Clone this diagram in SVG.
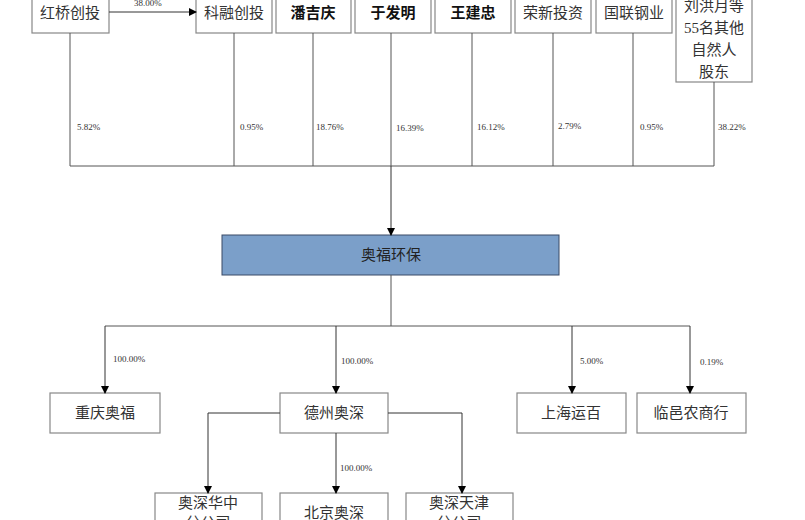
<svg xmlns="http://www.w3.org/2000/svg" width="805" height="520" viewBox="0 0 805 520">
<defs>
<marker id="ar" markerWidth="8" markerHeight="8" refX="7" refY="4" orient="auto" markerUnits="userSpaceOnUse"><path d="M0,0 L8,4 L0,8 z" fill="#000"/></marker>
<style>
.b{fill:#fff;stroke:#888;stroke-width:1.2}
.t{font-family:"Liberation Serif","Noto Sans CJK SC",serif;font-size:15px;fill:#333;text-anchor:middle}
.bd{font-weight:bold;fill:#111}
.p{font-family:"Liberation Serif",serif;font-size:9px;fill:#333}
.l{fill:none;stroke:#555;stroke-width:1}
.a{fill:none;stroke:#333;stroke-width:1;marker-end:url(#ar)}
</style>
</defs>
<rect width="805" height="520" fill="#fff"/>
<g id="hq"><rect class="b" x="32" y="-10" width="77" height="43"/><text class="t" x="70" y="18">红桥创投</text></g>
<g id="kr"><rect class="b" x="196" y="-10" width="76" height="43"/><text class="t" x="234" y="18">科融创投</text></g>
<g id="pjq"><rect class="b" x="276" y="-10" width="75" height="43"/><text class="t bd" x="313" y="18">潘吉庆</text></g>
<g id="yfm"><rect class="b" x="355" y="-10" width="76" height="43"/><text class="t bd" x="393" y="18">于发明</text></g>
<g id="wjz"><rect class="b" x="435" y="-10" width="76" height="43"/><text class="t bd" x="473" y="18">王建忠</text></g>
<g id="rx"><rect class="b" x="515" y="-10" width="76" height="43"/><text class="t" x="553" y="18">荣新投资</text></g>
<g id="gl"><rect class="b" x="596" y="-10" width="76" height="43"/><text class="t" x="634" y="18">国联钢业</text></g>
<g id="lhy"><rect class="b" x="676" y="-10" width="76" height="92"/>
<text class="t" x="714" y="11">刘洪月等</text><text class="t" x="714" y="33">55名其他</text><text class="t" x="714" y="55">自然人</text><text class="t" x="714" y="77">股东</text></g>
<g id="af"><rect x="222" y="235" width="337" height="40" fill="#7b9fc9" stroke="#3a4a66" stroke-width="1"/><text class="t" x="391" y="260" style="fill:#222">奥福环保</text></g>
<g id="cq"><rect class="b" x="50" y="393" width="110" height="40"/><text class="t" x="105" y="418">重庆奥福</text></g>
<g id="dz"><rect class="b" x="280" y="393" width="108" height="40"/><text class="t" x="334" y="418">德州奥深</text></g>
<g id="sh"><rect class="b" x="517" y="393" width="109" height="40"/><text class="t" x="571" y="418">上海运百</text></g>
<g id="ly"><rect class="b" x="637" y="393" width="109" height="40"/><text class="t" x="691" y="418">临邑农商行</text></g>
<g id="hz"><rect class="b" x="155" y="493" width="107" height="50"/><text class="t" x="208" y="508">奥深华中</text><text class="t" x="208" y="528">分公司</text></g>
<g id="bj"><rect class="b" x="280" y="493" width="108" height="50"/><text class="t" x="334" y="518">北京奥深</text></g>
<g id="tj"><rect class="b" x="406" y="493" width="107" height="50"/><text class="t" x="459" y="508">奥深天津</text><text class="t" x="459" y="528">分公司</text></g>
<g id="connectors">
<path class="a" d="M109,12 H196"/>
<text class="p" x="134" y="6">38.00%</text>
<path class="l" d="M70,33 V166 M234,33 V166 M313,33 V166 M391,33 V166 M472,33 V166 M553,33 V166 M633,33 V166 M714,82 V166 M70,166 H714"/>
<path class="a" d="M391,166 V235"/>
<text class="p" x="77" y="130">5.82%</text>
<text class="p" x="240" y="130">0.95%</text>
<text class="p" x="316" y="130">18.76%</text>
<text class="p" x="396" y="131">16.39%</text>
<text class="p" x="477" y="130">16.12%</text>
<text class="p" x="558" y="129">2.79%</text>
<text class="p" x="640" y="130">0.95%</text>
<text class="p" x="718" y="130">38.22%</text>
<path class="l" d="M391,275 V326 M105,326 H690"/>
<path class="a" d="M105,326 V393"/><path class="a" d="M336,326 V393"/><path class="a" d="M572,326 V393"/><path class="a" d="M690,326 V393"/>
<text class="p" x="113" y="362">100.00%</text>
<text class="p" x="341" y="364">100.00%</text>
<text class="p" x="580" y="364">5.00%</text>
<text class="p" x="700" y="365">0.19%</text>
<path class="a" d="M280,413 H208 V493"/>
<path class="a" d="M336,433 V493"/>
<path class="a" d="M388,413 H462 V493"/>
<text class="p" x="340" y="471">100.00%</text>
</g>
</svg>
